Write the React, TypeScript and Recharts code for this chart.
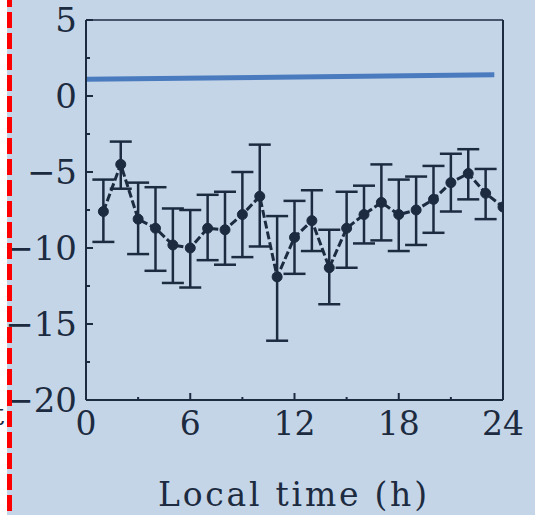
import {
  ComposedChart,
  Line,
  XAxis,
  YAxis,
  ErrorBar,
  Label,
} from "recharts";

// hourly means with their error-bar bounds (upper / lower)
const hours = [1, 2, 3, 4, 5, 6, 7, 8, 9, 10, 11, 12, 13, 14, 15, 16, 17, 18, 19, 20, 21, 22, 23, 24];
const meanValues = [-7.6, -4.5, -8.1, -8.7, -9.8, -10.0, -8.7, -8.8, -7.8, -6.6, -11.9, -9.3, -8.2, -11.3, -8.7, -7.8, -7.0, -7.8, -7.5, -6.8, -5.7, -5.1, -6.4, -7.3];
const upperValues = [-5.5, -3.0, -5.7, -6.0, -7.4, -7.5, -6.5, -6.3, -5.0, -3.2, -7.9, -6.9, -6.2, -8.8, -6.3, -5.9, -4.5, -5.5, -5.3, -4.6, -3.8, -3.5, -4.8, null];
const lowerValues = [-9.6, -6.1, -10.4, -11.5, -12.3, -12.6, -10.8, -11.1, -10.6, -9.9, -16.1, -11.7, -10.2, -13.7, -11.3, -9.7, -9.5, -10.2, -9.8, -9.0, -7.6, -6.8, -8.1, null];

// reference level drawn in blue
const baselineHours = [0, 23.5];
const baselineValues = [1.1, 1.4];

const xTicks = [0, 3, 6, 9, 12, 15, 18, 21, 24];
const xMajorTicks = [0, 6, 12, 18, 24];
const yTicks = [-20, -17.5, -15, -12.5, -10, -7.5, -5, -2.5, 0, 2.5, 5];
const yMajorTicks = [-20, -15, -10, -5, 0, 5];

const INK = "#1c2b40";
const BG = "#c5d5e8";
const FONT = "'DejaVu Serif', serif";

const series = hours.map((h, i) => ({
  hour: h,
  value: meanValues[i],
  err:
    upperValues[i] == null || lowerValues[i] == null
      ? null
      : [meanValues[i] - (lowerValues[i] as number), (upperValues[i] as number) - meanValues[i]],
}));

const baseline = baselineHours.map((h, i) => ({ hour: h, level: baselineValues[i] }));

const fmt = (v: number) => (v < 0 ? `\u2212${Math.abs(v)}` : `${v}`);

const XTick = ({ x, y, payload }: any) => {
  const major = xMajorTicks.includes(payload.value);
  return (
    <g>
      <line x1={x} x2={x} y1={y} y2={y - (major ? 7 : 3)} stroke={INK} strokeWidth={2} />
      {major && (
        <text x={x} y={y + 35} textAnchor="middle" fill={INK} fontSize={33} fontFamily={FONT}>
          {payload.value}
        </text>
      )}
    </g>
  );
};

const LeftTick = ({ x, y, payload }: any) => {
  const major = yMajorTicks.includes(payload.value);
  return (
    <g>
      <line x1={x} x2={x + (major ? 7 : 4)} y1={y} y2={y} stroke={INK} strokeWidth={2} />
      {major && (
        <text x={x - 9} y={y + 12} textAnchor="end" fill={INK} fontSize={34} fontFamily={FONT}>
          {fmt(payload.value)}
        </text>
      )}
    </g>
  );
};

const RightTick = ({ x, y, payload }: any) => {
  const major = yMajorTicks.includes(payload.value);
  return <line x1={x} x2={x - (major ? 5 : 3)} y1={y} y2={y} stroke={INK} strokeWidth={1.5} />;
};

const XTitle = ({ viewBox }: any) => {
  const cx = viewBox.x + viewBox.width / 2 - 2;
  return (
    <text
      x={cx}
      y={viewBox.y + 106}
      textAnchor="middle"
      fill={INK}
      fontSize={33}
      fontFamily={FONT}
      textLength={269}
      lengthAdjust="spacing"
    >
      Local time (h)
    </text>
  );
};

export default function App() {
  return (
    <div
      style={{
        position: "absolute",
        left: 0,
        top: 0,
        width: 535,
        height: 515,
        background: `linear-gradient(to right, #ffffff 0px, #ffffff 7px, ${BG} 7px)`,
        overflow: "hidden",
      }}
    >
      <ComposedChart width={535} height={515} margin={{ top: 0, right: 0, left: 0, bottom: 0 }}>
        <XAxis
          xAxisId={0}
          dataKey="hour"
          type="number"
          domain={[0, 24]}
          ticks={xTicks}
          allowDataOverflow
          height={115}
          tickSize={0}
          tickMargin={0}
          tickLine={false}
          tick={<XTick />}
          axisLine={{ stroke: INK, strokeWidth: 2 }}
        >
          <Label content={<XTitle />} />
        </XAxis>
        <XAxis
          xAxisId="top"
          orientation="top"
          type="number"
          domain={[0, 24]}
          height={20}
          tick={false}
          tickLine={false}
          axisLine={{ stroke: INK, strokeWidth: 1.5 }}
        />
        <YAxis
          yAxisId={0}
          type="number"
          domain={[-20, 5]}
          ticks={yTicks}
          allowDataOverflow
          width={86}
          tickSize={0}
          tickMargin={0}
          tickLine={false}
          tick={<LeftTick />}
          interval={0}
          axisLine={{ stroke: INK, strokeWidth: 2 }}
        />
        <YAxis
          yAxisId="right"
          orientation="right"
          type="number"
          domain={[-20, 5]}
          ticks={yTicks}
          width={32}
          tickSize={0}
          tickMargin={0}
          tickLine={false}
          tick={<RightTick />}
          interval={0}
          axisLine={{ stroke: INK, strokeWidth: 2 }}
        />
        <Line
          data={baseline}
          dataKey="level"
          stroke="#4a7bbf"
          strokeWidth={5}
          dot={false}
          isAnimationActive={false}
        />
        <Line
          data={series}
          dataKey="value"
          stroke={INK}
          strokeWidth={3}
          strokeDasharray="8 3"
          dot={{ r: 5, fill: INK, stroke: INK, strokeWidth: 1, strokeDasharray: "" }}
          isAnimationActive={false}
        >
          <ErrorBar dataKey="err" width={11} stroke={INK} strokeWidth={2.5} direction="y" />
        </Line>
      </ComposedChart>
      <svg
        width={535}
        height={515}
        style={{ position: "absolute", left: 0, top: 0, pointerEvents: "none" }}
      >
        <text x={4} y={425} textAnchor="end" fill={INK} fontSize={30} fontFamily={FONT}>
          t
        </text>
        <line
          x1={9.5}
          x2={9.5}
          y1={0}
          y2={515}
          stroke="#ff0000"
          strokeWidth={5}
          strokeDasharray="16 5"
          strokeDashoffset={9}
        />
      </svg>
    </div>
  );
}
